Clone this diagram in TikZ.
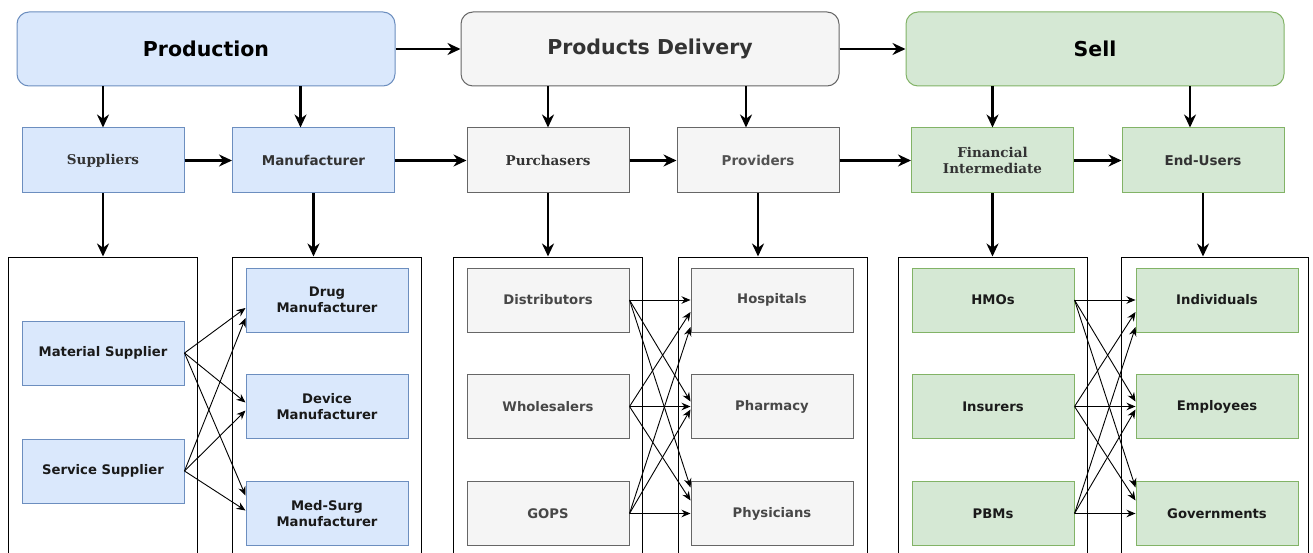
\documentclass[tikz,border=0pt]{standalone}
\usepackage{fontspec}
\setmainfont{DejaVu Sans}
\newfontfamily\serifbf{DejaVu Serif}[BoldFont={DejaVu Serif Bold}]
\usetikzlibrary{arrows.meta,calc}
\definecolor{bluefill}{HTML}{DAE8FC}
\definecolor{bluedraw}{HTML}{6C8EBF}
\definecolor{grayfill}{HTML}{F5F5F5}
\definecolor{graydraw}{HTML}{666666}
\definecolor{greenfill}{HTML}{D5E8D4}
\definecolor{greendraw}{HTML}{82B366}
\definecolor{txtdark}{HTML}{1A1A1A}
\definecolor{txtgray}{HTML}{333333}
\tikzset{
  topbox/.style={rounded corners=12pt, minimum width=378pt, minimum height=74pt, line width=1pt, inner sep=0pt,
    font=\bfseries\fontsize{20.5}{24}\selectfont},
  midbox/.style={minimum width=162pt, minimum height=65pt, line width=1pt, align=center, inner sep=0pt},
  lowbox/.style={minimum width=162pt, minimum height=64pt, line width=1pt, align=center, inner sep=0pt,
    font=\bfseries\fontsize{13.2}{16}\selectfont},
  bluebox/.style={fill=bluefill, draw=bluedraw, text=txtdark},
  graybox/.style={fill=grayfill, draw=graydraw, text=txtgray},
  greenbox/.style={fill=greenfill, draw=greendraw, text=txtdark},
  sanslbl/.style={font=\bfseries\fontsize{13.5}{16}\selectfont},
  seriflbl/.style={font=\serifbf\bfseries\fontsize{13.5}{16.5}\selectfont},
  cont/.style={draw=black, line width=1pt, fill=white, minimum width=189pt, minimum height=343pt, inner sep=0pt},
  bigarrow/.style={line width=2.2pt, -{Stealth[length=13pt,width=12pt]}},
  thinarrow/.style={line width=0.9pt, -{Stealth[length=9pt,width=7.5pt]}},
}
\begin{document}
\begin{tikzpicture}[x=1pt,y=-1pt]
\path[use as bounding box, clip] (0,0) rectangle (1313,553);
\fill[white] (0,0) rectangle (1313,553);

% top row
\node[topbox, bluebox, text=black] (prod) at (206,49) {Production};
\node[topbox, graybox] (deliv) at (650,49) {Products Delivery};
\node[topbox, greenbox, text=black] (sell) at (1095,49) {Sell};

% middle row
\node[midbox, bluebox, seriflbl, text=txtgray] (sup) at (103,160.5) {Suppliers};
\node[midbox, bluebox, sanslbl, text=txtgray] (mfr) at (313.5,160.5) {Manufacturer};
\node[midbox, graybox, seriflbl, text=txtgray] (pur) at (548,160.5) {Purchasers};
\node[midbox, graybox, sanslbl, text=txtgray!85] (prov) at (758,160.5) {Providers};
\node[midbox, greenbox, seriflbl, text=txtgray] (fin) at (992.5,160.5) {Financial\\Intermediate};
\node[midbox, greenbox, sanslbl, text=txtgray] (end) at (1203,160.5) {End-Users};

% containers
\node[cont] (c1) at (102.5,428.5) {};
\node[cont] (c2) at (326.5,428.5) {};
\node[cont] (c3) at (547.5,428.5) {};
\node[cont] (c4) at (772.5,428.5) {};
\node[cont] (c5) at (992.5,428.5) {};
\node[cont, minimum width=187pt] (c6) at (1215,428.5) {};

% bottom boxes
\node[lowbox, bluebox] (mat) at (103,353) {Material Supplier};
\node[lowbox, bluebox] (ser) at (103,471) {Service Supplier};
\node[lowbox, bluebox] (drug) at (327,300) {Drug\\Manufacturer};
\node[lowbox, bluebox] (dev) at (327,406.5) {Device\\Manufacturer};
\node[lowbox, bluebox] (med) at (327,513.5) {Med-Surg\\Manufacturer};

\node[lowbox, graybox, text=txtgray!90] (dist) at (548,300) {Distributors};
\node[lowbox, graybox, text=txtgray!90] (whol) at (548,406.5) {Wholesalers};
\node[lowbox, graybox, text=txtgray!90] (gops) at (548,513.5) {GOPS};
\node[lowbox, graybox, text=txtgray!90] (hosp) at (772,300) {Hospitals};
\node[lowbox, graybox, text=txtgray!90] (phar) at (772,406.5) {Pharmacy};
\node[lowbox, graybox, text=txtgray!90] (phys) at (772,513.5) {Physicians};

\node[lowbox, greenbox] (hmo) at (993,300) {HMOs};
\node[lowbox, greenbox] (ins) at (993,406.5) {Insurers};
\node[lowbox, greenbox] (pbm) at (993,513.5) {PBMs};
\node[lowbox, greenbox] (ind) at (1217,300) {Individuals};
\node[lowbox, greenbox] (emp) at (1217,406.5) {Employees};
\node[lowbox, greenbox] (gov) at (1217,513.5) {Governments};

% top horizontal arrows
\draw[bigarrow] (prod.east) -- (deliv.west);
\draw[bigarrow] (deliv.east) -- (sell.west);

% top to middle
\draw[bigarrow] (prod.south -| sup.north) -- (sup.north);
\draw[bigarrow] ([xshift=-13pt]prod.south -| mfr.north) -- ([xshift=-13pt]mfr.north);
\draw[bigarrow] (deliv.south -| pur.north) -- (pur.north);
\draw[bigarrow] ([xshift=-12pt]deliv.south -| prov.north) -- ([xshift=-12pt]prov.north);
\draw[bigarrow] (sell.south -| fin.north) -- (fin.north);
\draw[bigarrow] ([xshift=-13pt]sell.south -| end.north) -- ([xshift=-13pt]end.north);

% middle horizontal arrows
\draw[bigarrow] (sup.east) -- (mfr.west);
\draw[bigarrow] (mfr.east) -- (pur.west);
\draw[bigarrow] (pur.east) -- (prov.west);
\draw[bigarrow] (prov.east) -- (fin.west);
\draw[bigarrow] (fin.east) -- (end.west);

% middle to containers
\draw[bigarrow] (sup.south) -- (sup.south |- c1.north);
\draw[bigarrow] (mfr.south) -- (mfr.south |- c2.north);
\draw[bigarrow] (pur.south) -- (pur.south |- c3.north);
\draw[bigarrow] (prov.south) -- (prov.south |- c4.north);
\draw[bigarrow] (fin.south) -- (fin.south |- c5.north);
\draw[bigarrow] (end.south) -- (end.south |- c6.north);

% suppliers cross
\draw[thinarrow] (mat.east) -- ($(drug.west)+(0,8)$);
\draw[thinarrow] (ser.east) -- ($(drug.west)+(0,18)$);
\draw[thinarrow] (mat.east) -- ($(dev.west)+(0,-4)$);
\draw[thinarrow] (ser.east) -- ($(dev.west)+(0,4)$);
\draw[thinarrow] (mat.east) -- ($(med.west)+(0,-18)$);
\draw[thinarrow] (ser.east) -- ($(med.west)+(0,-3)$);

% purchasers cross
\draw[thinarrow] (dist.east) -- (hosp.west);
\draw[thinarrow] (whol.east) -- ($(hosp.west)+(0,12)$);
\draw[thinarrow] (gops.east) -- ($(hosp.west)+(0,27)$);
\draw[thinarrow] (dist.east) -- ($(phar.west)+(0,-5)$);
\draw[thinarrow] (whol.east) -- (phar.west);
\draw[thinarrow] (gops.east) -- ($(phar.west)+(0,3)$);
\draw[thinarrow] (dist.east) -- ($(phys.west)+(0,-26)$);
\draw[thinarrow] (whol.east) -- ($(phys.west)+(0,-13)$);
\draw[thinarrow] (gops.east) -- (phys.west);

% financial cross
\draw[thinarrow] (hmo.east) -- (ind.west);
\draw[thinarrow] (ins.east) -- ($(ind.west)+(0,12)$);
\draw[thinarrow] (pbm.east) -- ($(ind.west)+(0,27)$);
\draw[thinarrow] (hmo.east) -- ($(emp.west)+(0,-5)$);
\draw[thinarrow] (ins.east) -- (emp.west);
\draw[thinarrow] (pbm.east) -- ($(emp.west)+(0,3)$);
\draw[thinarrow] (hmo.east) -- ($(gov.west)+(0,-26)$);
\draw[thinarrow] (ins.east) -- ($(gov.west)+(0,-13)$);
\draw[thinarrow] (pbm.east) -- (gov.west);
\end{tikzpicture}
\end{document}
